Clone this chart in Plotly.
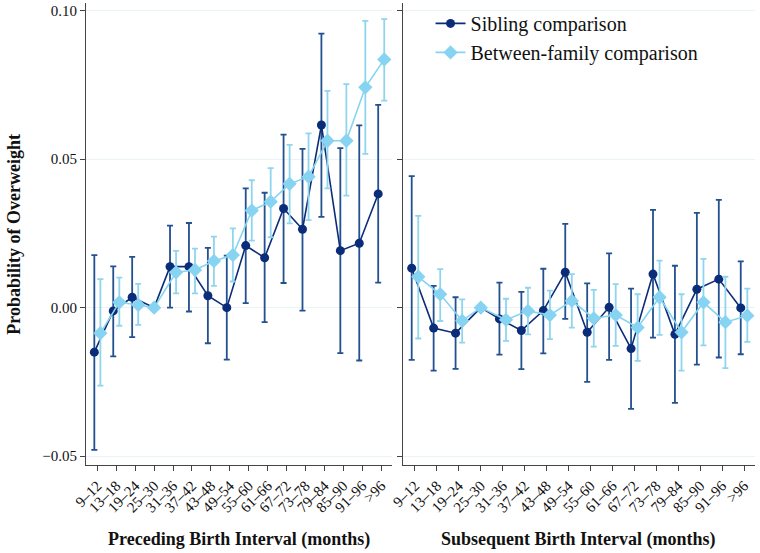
"""Probability of overweight by preceding / subsequent birth interval."""
import plotly.graph_objects as go

INTERVALS = ["9–12", "13–18", "19–24", "25–30", "31–36", "37–42", "43–48",
             "49–54", "55–60", "61–66", "67–72", "73–78", "79–84", "85–90",
             "91–96", ">96"]

# Preceding birth interval (left panel)
PRE_SIB = [-0.0150, -0.0011, 0.0035, 0.0, 0.0138, 0.0138, 0.0040, 0.0,
           0.0209, 0.0168, 0.0334, 0.0264, 0.0615, 0.0192, 0.0217, 0.0383]
PRE_SIB_HI = [0.0177, 0.0139, 0.0171, 0.0, 0.0276, 0.0285, 0.0201, 0.0175,
              0.0402, 0.0387, 0.0583, 0.0535, 0.0923, 0.0537, 0.0614, 0.0683]
PRE_SIB_LO = [-0.0479, -0.0164, -0.0099, 0.0, 0.0, -0.0013, -0.0120, -0.0175,
              0.0015, -0.0049, 0.0083, -0.0010, 0.0306, -0.0153, -0.0178, 0.0084]

PRE_BTW = [-0.0086, 0.0018, 0.0009, 0.0, 0.0119, 0.0127, 0.0157, 0.0177,
           0.0327, 0.0357, 0.0417, 0.0441, 0.0562, 0.0562, 0.0742, 0.0836]
PRE_BTW_HI = [0.0096, 0.0101, 0.0080, 0.0, 0.0191, 0.0199, 0.0239, 0.0267,
              0.0429, 0.0470, 0.0548, 0.0587, 0.0730, 0.0753, 0.0966, 0.0972]
PRE_BTW_LO = [-0.0263, -0.0061, -0.0058, 0.0, 0.0048, 0.0048, 0.0073, 0.0088,
              0.0226, 0.0237, 0.0284, 0.0295, 0.0402, 0.0377, 0.0518, 0.0697]

# Subsequent birth interval (right panel)
SUB_SIB = [0.0133, -0.0069, -0.0086, 0.0, -0.0038, -0.0077, -0.0010, 0.0119,
           -0.0083, 0.0001, -0.0138, 0.0113, -0.0090, 0.0062, 0.0096, -0.0001]
SUB_SIB_HI = [0.0443, 0.0073, 0.0035, 0.0, 0.0084, 0.0053, 0.0131, 0.0282,
              0.0082, 0.0183, 0.0064, 0.0329, 0.0141, 0.0319, 0.0363, 0.0156]
SUB_SIB_LO = [-0.0176, -0.0212, -0.0206, 0.0, -0.0158, -0.0207, -0.0154, -0.0038,
              -0.0250, -0.0176, -0.0341, -0.0101, -0.0321, -0.0192, -0.0168, -0.0157]

SUB_BTW = [0.0104, 0.0045, -0.0044, 0.0, -0.0041, -0.0011, -0.0025, 0.0023,
           -0.0036, -0.0025, -0.0067, 0.0035, -0.0083, 0.0018, -0.0049, -0.0027]
SUB_BTW_HI = [0.0309, 0.0130, 0.0028, 0.0, 0.0030, 0.0067, 0.0057, 0.0113,
              0.0060, 0.0079, 0.0045, 0.0158, 0.0045, 0.0164, 0.0104, 0.0064]
SUB_BTW_LO = [-0.0104, -0.0045, -0.0118, 0.0, -0.0112, -0.0090, -0.0106, -0.0067,
              -0.0131, -0.0129, -0.0179, -0.0092, -0.0212, -0.0127, -0.0204, -0.0115]

DARK = "#0b2c78"
DARK_ERR = "#23508f"
LIGHT = "#86d4f2"
LIGHT_ERR = "#8fd5ee"
FONT = "Liberation Serif"


def _xs(lo, hi, offset):
    """Vị trí x: lệch trái/phải quanh tick, trừ nhóm tham chiếu."""
    return [i + (0 if (h == 0 and l == 0) else offset)
            for i, (l, h) in enumerate(zip(lo, hi))]


def _trace(vals, lo, hi, offset, xaxis, name, color, err_color, symbol,
           size, showlegend):
    return go.Scatter(
        x=_xs(lo, hi, offset), y=vals,
        xaxis=xaxis, yaxis="y" if xaxis == "x" else "y2",
        mode="lines+markers", name=name, showlegend=showlegend,
        line=dict(color=color, width=1.6),
        marker=dict(color=color, symbol=symbol, size=size),
        error_y=dict(type="data", symmetric=False,
                     array=[h - v for v, h in zip(vals, hi)],
                     arrayminus=[v - l for v, l in zip(vals, lo)],
                     color=err_color, thickness=1.8, width=3),
    )


fig = go.Figure()
fig.add_trace(_trace(PRE_SIB, PRE_SIB_LO, PRE_SIB_HI, -0.16, "x",
                     "Sibling comparison", DARK, DARK_ERR, "circle", 9, True))
fig.add_trace(_trace(PRE_BTW, PRE_BTW_LO, PRE_BTW_HI, 0.16, "x",
                     "Between-family comparison", LIGHT, LIGHT_ERR, "diamond", 11, True))
fig.add_trace(_trace(SUB_SIB, SUB_SIB_LO, SUB_SIB_HI, -0.15, "x2",
                     "Sibling comparison", DARK, DARK_ERR, "circle", 9, False))
fig.add_trace(_trace(SUB_BTW, SUB_BTW_LO, SUB_BTW_HI, 0.15, "x2",
                     "Between-family comparison", LIGHT, LIGHT_ERR, "diamond", 11, False))

xcommon = dict(
    tickmode="array", tickvals=list(range(len(INTERVALS))), ticktext=INTERVALS,
    tickangle=-45, ticks="outside", ticklen=5, tickcolor="#444",
    showline=True, linecolor="#444", linewidth=1.2, showgrid=False,
    zeroline=False, tickfont=dict(family=FONT, size=15, color="#111"),
    range=[-0.6, 15.57],
)
ycommon = dict(
    range=[-0.053, 0.1026], tickvals=[-0.05, 0.0, 0.05, 0.10],
    ticks="outside", ticklen=5, tickcolor="#444",
    showline=True, linecolor="#444", linewidth=1.2,
    showgrid=True, gridcolor="#eaf4f6", gridwidth=1, zeroline=False,
    tickfont=dict(family=FONT, size=15, color="#111"),
)

fig.update_layout(
    width=760, height=553,
    margin=dict(l=86, r=5, t=3, b=88),
    plot_bgcolor="white", paper_bgcolor="white",
    font=dict(family=FONT, color="#111"),
    xaxis=dict(domain=[0, 0.4574], anchor="y", **xcommon),
    xaxis2=dict(domain=[0.4734, 1], anchor="y2", **{**xcommon, "range": [-0.56, 15.5]}),
    yaxis=dict(anchor="x", tickformat=".2f", **ycommon),
    yaxis2=dict(anchor="x2", matches="y", showticklabels=False, **ycommon),
    legend=dict(x=0.515, y=0.998, xanchor="left", yanchor="top",
                bgcolor="rgba(0,0,0,0)", font=dict(family=FONT, size=20),
                tracegroupgap=0),
    showlegend=True,
    annotations=[
        dict(text="<b>Probability of Overweight</b>", xref="paper", yref="paper",
             x=-0.108, y=0.5, xanchor="center", yanchor="middle",
             textangle=-90, showarrow=False, font=dict(family=FONT, size=18)),
        dict(text="<b>Preceding Birth Interval (months)</b>", xref="paper",
             yref="paper", x=0.2287, y=-0.162, xanchor="center", yanchor="middle",
             showarrow=False, font=dict(family=FONT, size=18)),
        dict(text="<b>Subsequent Birth Interval (months)</b>", xref="paper",
             yref="paper", x=0.7367, y=-0.162, xanchor="center", yanchor="middle",
             showarrow=False, font=dict(family=FONT, size=18)),
    ],
)

# bỏ margin mặc định của <body> để khung hình khớp cửa sổ 760x553
fig.write_html("out.html", config={"displayModeBar": False},
               post_script="document.body.style.margin='0';")
